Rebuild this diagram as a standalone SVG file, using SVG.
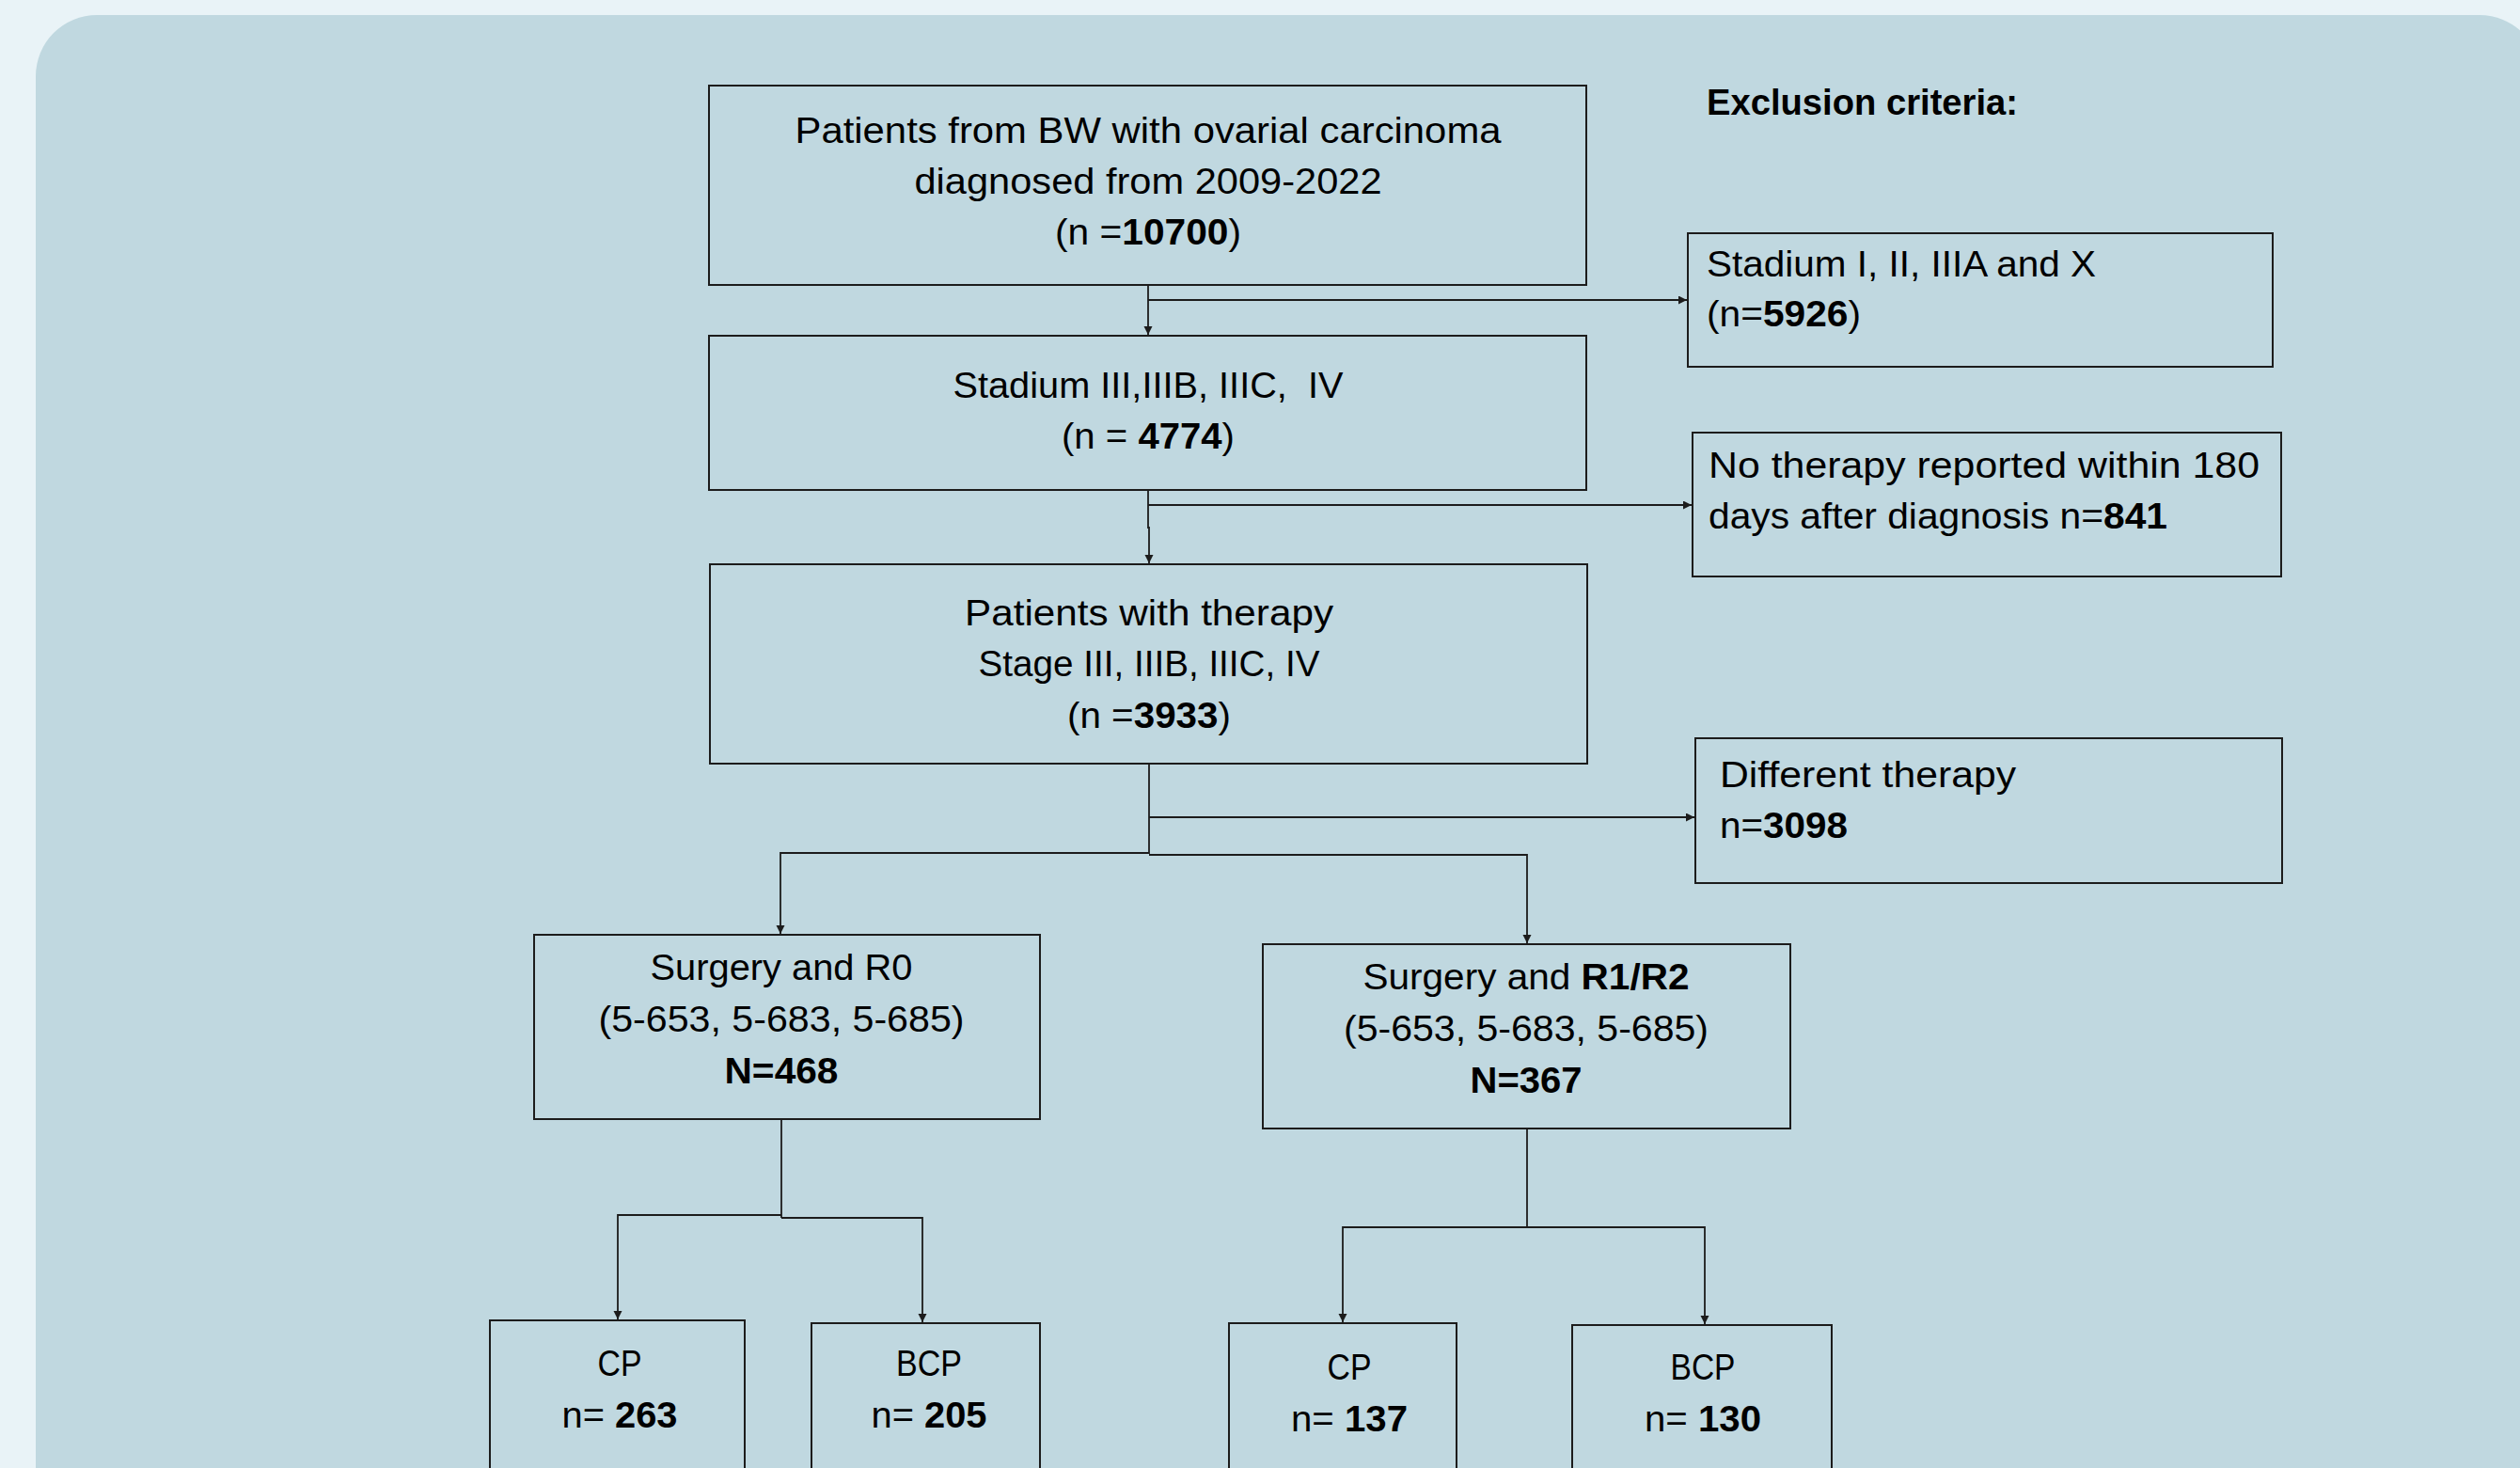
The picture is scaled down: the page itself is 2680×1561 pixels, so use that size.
<svg xmlns="http://www.w3.org/2000/svg" width="2680" height="1561" viewBox="0 0 2680 1561">
  <defs>
    <style>
      .box { fill: #c0d8e0; stroke: #1c1c1c; stroke-width: 2; }
      .t { font-family: "Liberation Sans", Arial, sans-serif; font-size: 38px; fill: #000; }
      .c { text-anchor: middle; }
      .b { font-weight: bold; }
      .conn { fill: none; stroke: #1c1c1c; stroke-width: 1.8; }
    </style>
    <marker id="arr" markerUnits="userSpaceOnUse" markerWidth="10" markerHeight="10" refX="9" refY="4.5" orient="auto">
      <path d="M0,0 L9,4.5 L0,9 z" fill="#1c1c1c"/>
    </marker>
  </defs>

  <rect x="0" y="0" width="2680" height="1561" fill="#e9f3f7"/>
  <rect x="38" y="16" width="2664" height="1700" rx="65" ry="65" fill="#c0d8e0"/>

  <text class="t b" x="1815" y="122" textLength="331" lengthAdjust="spacingAndGlyphs">Exclusion criteria:</text>

  <g id="connectors">
    <line class="conn" x1="1221" y1="303" x2="1221" y2="356" marker-end="url(#arr)"/>
    <line class="conn" x1="1221" y1="319" x2="1794" y2="319" marker-end="url(#arr)"/>
    <polyline class="conn" points="1221,521 1221,561 1222,561 1222,599" marker-end="url(#arr)"/>
    <line class="conn" x1="1221" y1="537" x2="1799" y2="537" marker-end="url(#arr)"/>
    <line class="conn" x1="1222" y1="812" x2="1222" y2="908"/>
    <line class="conn" x1="1222" y1="869" x2="1802" y2="869" marker-end="url(#arr)"/>
    <polyline class="conn" points="1222,907 830,907 830,993" marker-end="url(#arr)"/>
    <polyline class="conn" points="1222,909 1624,909 1624,1003" marker-end="url(#arr)"/>
    <line class="conn" x1="831" y1="1190" x2="831" y2="1295"/>
    <polyline class="conn" points="831,1292 657,1292 657,1403" marker-end="url(#arr)"/>
    <polyline class="conn" points="831,1295 981,1295 981,1406" marker-end="url(#arr)"/>
    <line class="conn" x1="1624" y1="1200" x2="1624" y2="1305"/>
    <polyline class="conn" points="1624,1305 1428,1305 1428,1406" marker-end="url(#arr)"/>
    <polyline class="conn" points="1624,1305 1813,1305 1813,1408" marker-end="url(#arr)"/>
  </g>

  <g id="n-total">
    <rect class="box" x="754" y="91" width="933" height="212"/>
    <text class="t c" x="1221" y="152" textLength="751" lengthAdjust="spacingAndGlyphs">Patients from BW with ovarial carcinoma</text>
    <text class="t c" x="1221" y="206" textLength="497" lengthAdjust="spacingAndGlyphs">diagnosed from 2009-2022</text>
    <text class="t c" x="1221" y="260" textLength="198" lengthAdjust="spacingAndGlyphs">(n =<tspan class="b">10700</tspan>)</text>
  </g>

  <g id="n-stage">
    <rect class="box" x="754" y="357" width="933" height="164"/>
    <text class="t c" x="1221" y="423" textLength="415" lengthAdjust="spacingAndGlyphs" xml:space="preserve">Stadium III,IIIB, IIIC,  IV</text>
    <text class="t c" x="1221" y="477" textLength="184" lengthAdjust="spacingAndGlyphs">(n = <tspan class="b">4774</tspan>)</text>
  </g>

  <g id="n-therapy">
    <rect class="box" x="755" y="600" width="933" height="212"/>
    <text class="t c" x="1222" y="665" textLength="392" lengthAdjust="spacingAndGlyphs">Patients with therapy</text>
    <text class="t c" x="1222" y="719" textLength="363" lengthAdjust="spacingAndGlyphs">Stage III, IIIB, IIIC, IV</text>
    <text class="t c" x="1222" y="774" textLength="174" lengthAdjust="spacingAndGlyphs">(n =<tspan class="b">3933</tspan>)</text>
  </g>

  <g id="x-stage">
    <rect class="box" x="1795" y="248" width="622" height="142"/>
    <text class="t" x="1815" y="294" textLength="414" lengthAdjust="spacingAndGlyphs">Stadium I, II, IIIA and X</text>
    <text class="t" x="1815" y="347" textLength="164" lengthAdjust="spacingAndGlyphs">(n=<tspan class="b">5926</tspan>)</text>
  </g>

  <g id="x-notherapy">
    <rect class="box" x="1800" y="460" width="626" height="153"/>
    <text class="t" x="1817" y="508" textLength="586" lengthAdjust="spacingAndGlyphs">No therapy reported within 180</text>
    <text class="t" x="1817" y="562" textLength="488" lengthAdjust="spacingAndGlyphs">days after diagnosis n=<tspan class="b">841</tspan></text>
  </g>

  <g id="x-different">
    <rect class="box" x="1803" y="785" width="624" height="154"/>
    <text class="t" x="1829" y="837" textLength="315" lengthAdjust="spacingAndGlyphs">Different therapy</text>
    <text class="t" x="1829" y="891" textLength="136" lengthAdjust="spacingAndGlyphs">n=<tspan class="b">3098</tspan></text>
  </g>

  <g id="n-r0">
    <rect class="box" x="568" y="994" width="538" height="196"/>
    <text class="t c" x="831" y="1042" textLength="279" lengthAdjust="spacingAndGlyphs">Surgery and R0</text>
    <text class="t c" x="831" y="1097" textLength="389" lengthAdjust="spacingAndGlyphs">(5-653, 5-683, 5-685)</text>
    <text class="t c b" x="831" y="1152" textLength="121" lengthAdjust="spacingAndGlyphs">N=468</text>
  </g>

  <g id="n-r12">
    <rect class="box" x="1343" y="1004" width="561" height="196"/>
    <text class="t c" x="1623" y="1052" textLength="347" lengthAdjust="spacingAndGlyphs">Surgery and <tspan class="b">R1/R2</tspan></text>
    <text class="t c" x="1623" y="1107" textLength="388" lengthAdjust="spacingAndGlyphs">(5-653, 5-683, 5-685)</text>
    <text class="t c b" x="1623" y="1162" textLength="119" lengthAdjust="spacingAndGlyphs">N=367</text>
  </g>

  <g id="n-r0-cp">
    <rect class="box" x="521" y="1404" width="271" height="220"/>
    <text class="t c" x="659" y="1463" textLength="47" lengthAdjust="spacingAndGlyphs">CP</text>
    <text class="t c" x="659" y="1518" textLength="123" lengthAdjust="spacingAndGlyphs">n= <tspan class="b">263</tspan></text>
  </g>

  <g id="n-r0-bcp">
    <rect class="box" x="863" y="1407" width="243" height="220"/>
    <text class="t c" x="988" y="1463" textLength="70" lengthAdjust="spacingAndGlyphs">BCP</text>
    <text class="t c" x="988" y="1518" textLength="123" lengthAdjust="spacingAndGlyphs">n= <tspan class="b">205</tspan></text>
  </g>

  <g id="n-r12-cp">
    <rect class="box" x="1307" y="1407" width="242" height="220"/>
    <text class="t c" x="1435" y="1467" textLength="47" lengthAdjust="spacingAndGlyphs">CP</text>
    <text class="t c" x="1435" y="1522" textLength="124" lengthAdjust="spacingAndGlyphs">n= <tspan class="b">137</tspan></text>
  </g>

  <g id="n-r12-bcp">
    <rect class="box" x="1672" y="1409" width="276" height="220"/>
    <text class="t c" x="1811" y="1467" textLength="69" lengthAdjust="spacingAndGlyphs">BCP</text>
    <text class="t c" x="1811" y="1522" textLength="124" lengthAdjust="spacingAndGlyphs">n= <tspan class="b">130</tspan></text>
  </g>
</svg>
